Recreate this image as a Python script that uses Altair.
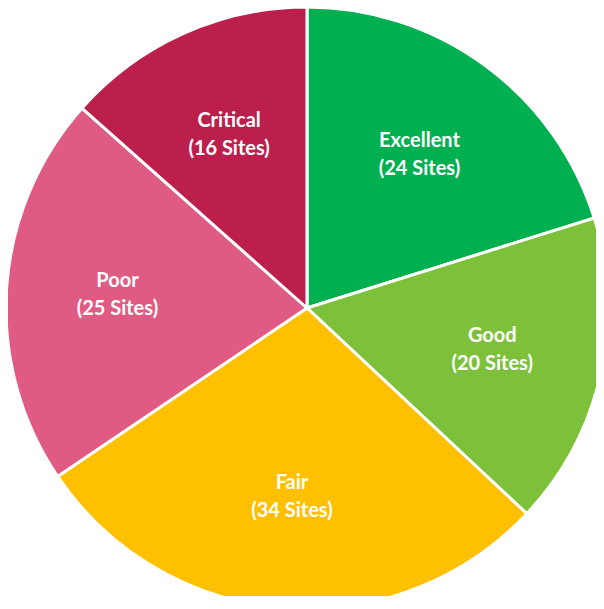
import altair as alt
import pandas as pd

categories = ["Excellent", "Good", "Fair", "Poor", "Critical"]
sites = [24, 20, 34, 25, 16]
colors = ["#00B050", "#7DC13A", "#FFC000", "#E05B83", "#BC1F4B"]

df = pd.DataFrame({
    "category": categories,
    "sites": sites,
    "order": list(range(len(categories))),
})
df["label"] = df["category"] + "\n(" + df["sites"].astype(str) + " Sites)"

base = alt.Chart(df).encode(
    theta=alt.Theta("sites:Q", stack=True),
    order=alt.Order("order:Q"),
    x=alt.value(299),
    y=alt.value(300),
)

pie = base.mark_arc(outerRadius=301, stroke="white", strokeWidth=3).encode(
    color=alt.Color("category:N", scale=alt.Scale(domain=categories, range=colors), legend=None)
)

text = base.mark_text(
    radius=190, font="Lato", fontWeight="bold", fontSize=20, color="white",
    lineBreak="\n", lineHeight=28, align="center", baseline="middle", dy=-14,
).encode(text="label:N")

chart = (pie + text).properties(
    width=588, height=588, padding=0, autosize=alt.AutoSizeParams(type="none")
).configure_view(stroke=None)

chart.save("out.html", embed_options={"renderer": "svg", "actions": False})
